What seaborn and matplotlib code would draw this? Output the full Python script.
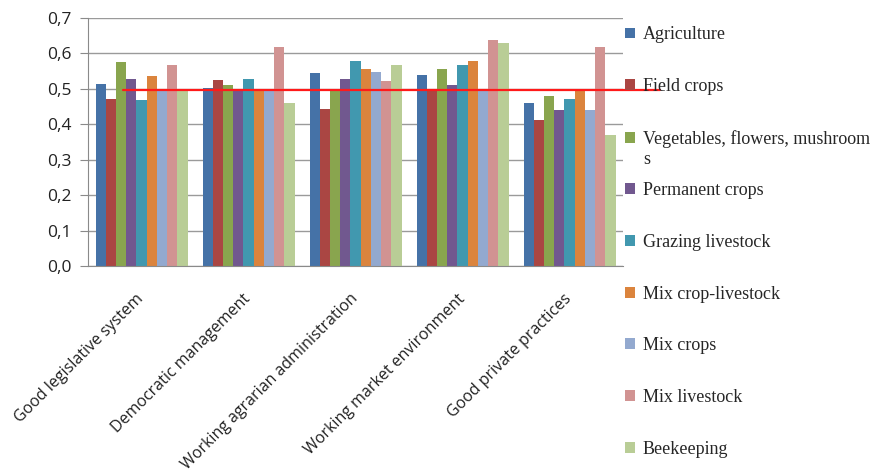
import matplotlib
matplotlib.use("Agg")
import matplotlib.pyplot as plt
import pandas as pd
import seaborn as sns

categories = ["Good legislative system", "Democratic management",
              "Working agrarian administration", "Working market environment",
              "Good private practices"]
sectors = ["Agriculture", "Field crops", "Vegetables, flowers, mushroom",
           "Permanent crops", "Grazing livestock", "Mix crop-livestock",
           "Mix crops", "Mix livestock", "Beekeeping"]

agriculture = [0.513, 0.503, 0.544, 0.540, 0.459]
field_crops = [0.472, 0.524, 0.443, 0.499, 0.413]
vegetables = [0.577, 0.510, 0.499, 0.557, 0.480]
permanent = [0.527, 0.499, 0.527, 0.510, 0.439]
grazing = [0.469, 0.527, 0.578, 0.566, 0.470]
mix_crop_livestock = [0.536, 0.496, 0.557, 0.578, 0.499]
mix_crops = [0.499, 0.497, 0.548, 0.499, 0.439]
mix_livestock = [0.566, 0.617, 0.521, 0.637, 0.617]
beekeeping = [0.497, 0.459, 0.566, 0.628, 0.369]
threshold = 0.497

series = [agriculture, field_crops, vegetables, permanent, grazing,
          mix_crop_livestock, mix_crops, mix_livestock, beekeeping]
colors = ["#4572A7", "#AA4643", "#89A54E", "#71588F", "#4198AF",
          "#DB843D", "#93A9CF", "#D19392", "#B9CD96"]

rows = []
for name, vals in zip(sectors, series):
    for cat, v in zip(categories, vals):
        rows.append({"category": cat, "sector": name, "value": v})
df = pd.DataFrame(rows)

sns.set_style("white")
fig = plt.figure(figsize=(8.82, 4.72), dpi=100)
ax = fig.add_axes([0.0998, 0.4364, 0.6066, 0.5256])

sns.barplot(data=df, x="category", y="value", hue="sector", order=categories,
            hue_order=sectors, palette=colors, saturation=1, width=0.86,
            linewidth=0, edgecolor="none", ax=ax, legend=True)

ax.set_ylim(0, 0.7)
ax.set_xlim(-0.5, 4.5)
ax.set_yticks([i / 10 for i in range(8)])
ax.set_yticklabels([f"{i / 10:.1f}".replace(".", ",") for i in range(8)],
                   family="Open Sans", fontsize=12.5, color="#222222")
ax.yaxis.grid(True, color="#9a9a9a", lw=1)
ax.set_axisbelow(True)
ax.set_xlabel("")
ax.set_ylabel("")
ax.set_xticks(range(5))
ax.set_xticklabels(categories, rotation=45, ha="right", va="center",
                   rotation_mode="anchor",
                   family="Open Sans", fontsize=11.5, color="#222222")
ax.tick_params(axis="x", which="major", length=0, pad=22)
ax.set_xticks([i - 0.5 for i in range(6)], minor=True)
ax.tick_params(axis="x", which="minor", length=6, color="#8a8a8a", direction="out")
ax.tick_params(axis="y", length=6, pad=6, color="#8a8a8a", direction="out", left=True)
for s in ["top", "right"]:
    ax.spines[s].set_visible(False)
for s in ["left", "bottom"]:
    ax.spines[s].set_color("#8a8a8a")

ax.axhline(threshold, xmin=0.065, xmax=1.07, color="#ff1a1a", lw=1.6,
           clip_on=False, zorder=5)

leg = ax.legend(loc="upper left", bbox_to_anchor=(0.99, 0.995), frameon=False,
                prop={"family": "Liberation Serif", "size": 13},
                handlelength=0.55, handleheight=0.55, handletextpad=0.45,
                labelspacing=1.92, borderaxespad=0)

# the long label wraps its last letter onto a second line in the original
fig.canvas.draw()
bb = leg.get_texts()[2].get_window_extent(fig.canvas.get_renderer())
fig.text(bb.x0 / fig.bbox.width, (bb.y0 - 20) / fig.bbox.height, "s",
         family="Liberation Serif", fontsize=13, va="bottom", ha="left")

fig.savefig("out.png", dpi=100)
